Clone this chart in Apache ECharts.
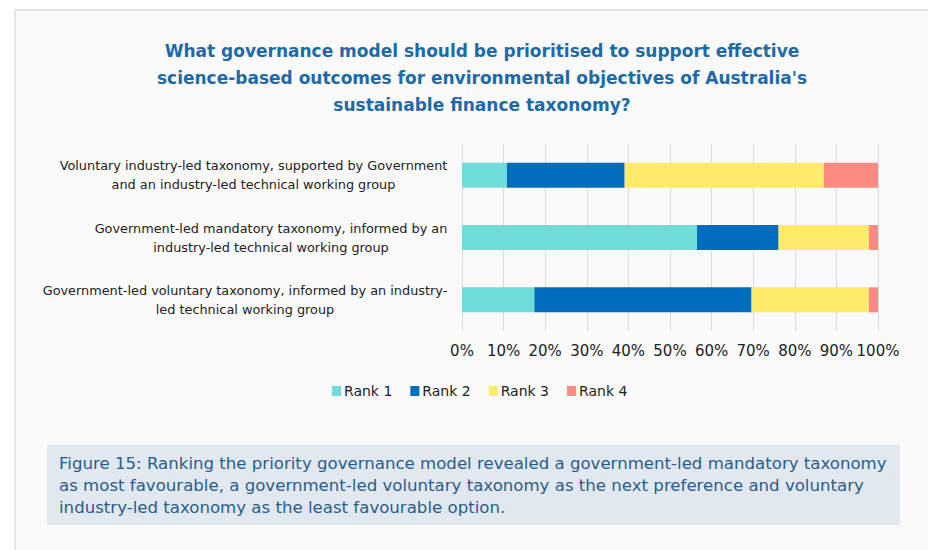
<!DOCTYPE html>
<html>
<head>
<meta charset="utf-8">
<script src="https://cdn.jsdelivr.net/npm/echarts@6/dist/echarts.min.js"></script>
<style>
  html, body { margin: 0; padding: 0; background: #ffffff; }
  #frame { position: absolute; left: 14px; top: 9px; width: 940px; height: 560px;
           background: #fafafa; border-left: 2px solid #e6e6e6; border-top: 2px solid #e6e6e6; }
  #chart { position: absolute; left: 0; top: 0; width: 928px; height: 550px; }
</style>
</head>
<body>
<div id="frame"></div>
<div id="chart"></div>
<script>
const categories = [
  "Voluntary industry-led taxonomy, supported by Government\nand an industry-led technical working group",
  "Government-led mandatory taxonomy, informed by an\nindustry-led technical working group",
  "Government-led voluntary taxonomy, informed by an industry-\nled technical working group"
];
const seriesNames = ["Rank 1", "Rank 2", "Rank 3", "Rank 4"];
const rank1 = [10.8, 56.5, 17.4];
const rank2 = [28.3, 19.6, 52.2];
const rank3 = [47.9, 21.7, 28.2];
const rank4 = [13.0, 2.2, 2.2];
const xTicks = [0, 10, 20, 30, 40, 50, 60, 70, 80, 90, 100];
const colors = ["#6edcd9", "#006ebd", "#fdeb69", "#fe8a82"];
const titleText = "What governance model should be prioritised to support effective\nscience-based outcomes for environmental objectives of Australia's\nsustainable finance taxonomy?";
const captionText = "Figure 15: Ranking the priority governance model revealed a government-led mandatory taxonomy\nas most favourable, a government-led voluntary taxonomy as the next preference and voluntary\nindustry-led taxonomy as the least favourable option.";

const FONT = "'DejaVu Sans', sans-serif";
const LABEL_SIZE = 12.85;
const values = [rank1, rank2, rank3, rank4];

// measure label lines so each multi-line label can be centred within its own block
const ctx = document.createElement('canvas').getContext('2d');
ctx.font = LABEL_SIZE + "px 'DejaVu Sans'";
const labelWidths = categories.map(c => Math.ceil(Math.max(...c.split('\n').map(l => ctx.measureText(l).width))) + 1);
const rich = {};
labelWidths.forEach((w, i) => {
  rich['c' + i] = { width: w, align: 'center', fontFamily: FONT, fontSize: LABEL_SIZE, color: '#222', lineHeight: 19 };
});

const chart = echarts.init(document.getElementById('chart'), null, { renderer: 'svg' });
chart.setOption({
  backgroundColor: 'transparent',
  color: colors,
  title: {
    text: titleText,
    left: 477,
    top: 32,
    textAlign: 'center',
    textStyle: { fontFamily: FONT, fontSize: 17, fontWeight: 'bold', color: '#1e6aa7', lineHeight: 27, align: 'center' }
  },
  legend: {
    data: seriesNames,
    left: 327,
    top: 379,
    itemWidth: 9,
    itemHeight: 10,
    itemGap: 18,
    icon: 'rect',
    textStyle: { fontFamily: FONT, fontSize: 14, color: '#222', padding: [0, 0, 0, -2] }
  },
  grid: { left: 462, right: 50, top: 144, bottom: 219, containLabel: false },
  xAxis: {
    type: 'value',
    min: 0, max: 100, interval: 10,
    axisLine: { show: false },
    axisTick: { show: false },
    splitLine: { show: true, lineStyle: { color: '#dadae0', width: 1 } },
    axisLabel: { formatter: v => xTicks.includes(v) ? v + '%' : '', fontFamily: FONT, fontSize: 15, color: '#222', margin: 12 }
  },
  yAxis: {
    type: 'category',
    inverse: true,
    data: categories,
    axisLine: { show: false },
    axisTick: { show: false },
    axisLabel: {
      margin: 14, align: 'right',
      formatter: (val, idx) => val.split('\n').map(l => '{c' + idx + '|' + l + '}').join('\n'),
      rich: rich
    }
  },
  graphic: [
    {
      type: 'rect', left: 47, top: 445,
      shape: { width: 853, height: 80 },
      style: { fill: '#e1e8f0' }, silent: true
    },
    {
      type: 'text', left: 59, top: 452,
      style: { text: captionText, fontFamily: FONT, fontSize: 16.6, lineHeight: 22, fill: '#2b5d8a' },
      silent: true
    }
  ],
  series: seriesNames.map((name, i) => ({
    name: name,
    type: 'bar',
    stack: 'total',
    barWidth: 25,
    data: values[i],
    itemStyle: { color: colors[i] }
  }))
});
</script>
</body>
</html>
